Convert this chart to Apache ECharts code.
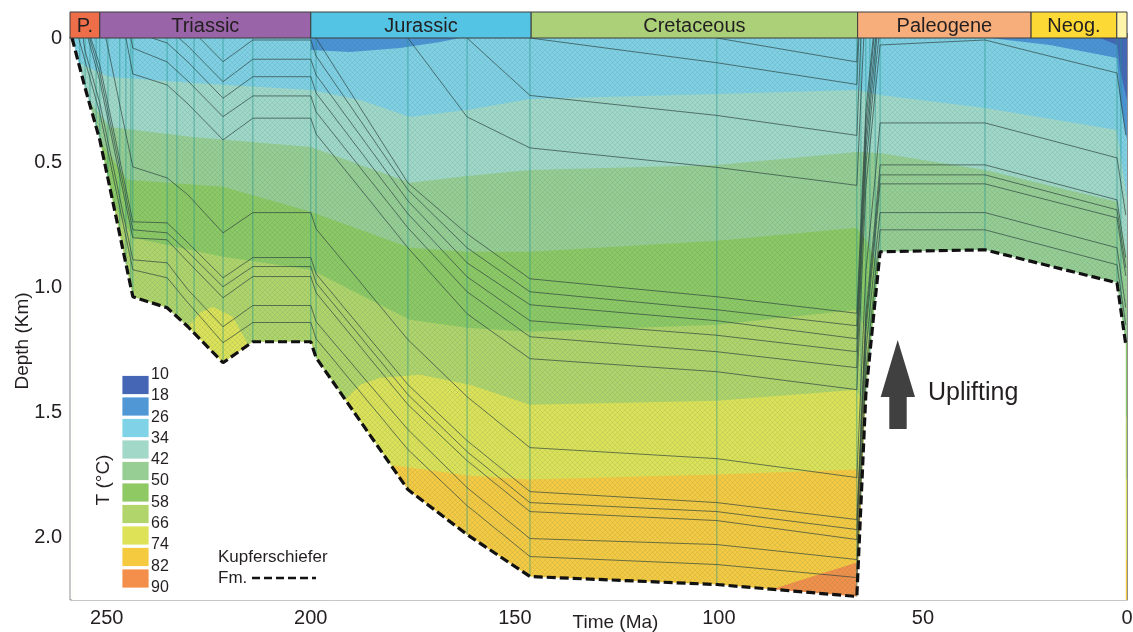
<!DOCTYPE html>
<html>
<head>
<meta charset="utf-8">
<script src="https://cdn.jsdelivr.net/npm/echarts@6/dist/echarts.min.js"></script>
<style>html,body{margin:0;padding:0;background:#fff}#c{width:1133px;height:632px}</style>
</head>
<body>
<div id="c"></div>
<script>
// ---------------- DATA (time in Ma, depth in km) ----------------
const periodNames  = ['P.', 'Triassic', 'Jurassic', 'Cretaceous', 'Paleogene', 'Neog.', ''];
const periodStart  = [259, 251.7, 200, 146, 66, 23.5, 2.5];
const periodEnd    = [251.7, 200, 146, 66, 23.5, 2.5, 0];
const periodColors = ['#EF6E4A', '#9964A8', '#53C4E3', '#ABD078', '#F8AE7B', '#FCD934', '#FEF4AA'];

const xTickValues = [250, 200, 150, 100, 50, 0];
const yTickValues = [0, 0.5, 1.0, 1.5, 2.0];

const tempLabels = [10, 18, 26, 34, 42, 50, 58, 66, 74, 82, 90];
const tempColors = ['#4566B4', '#4F97D5', '#80D2E6', '#A2D8C8', '#97CE94', '#8FC964', '#B1D46B', '#DDE257', '#F6CA3F', '#F38F4A'];

// Kupferschiefer Fm. (base of the section)
const kupferschieferBase = [[258.5,0],[255.3,0.2],[251.7,0.408],[243.6,1.036],[235.2,1.08],[230.1,1.156],[221.5,1.3],[214.2,1.216],[200,1.216],[198.7,1.28],[176.2,1.808],[161.7,1.988],[146.3,2.156],[100.5,2.188],[66.2,2.236],[64.0,1.428],[61.7,1.048],[60.5,0.856],[34.8,0.848],[2.45,0.98],[0.3,1.228]];

// time steps of the model (thin vertical lines)
const stepTimes = [256.6,255.3,254.1,252.6,251.7,249.7,246.8,245.3,244.1,243.6,235.2,232.8,228.6,221.5,214.2,200,198.7,176.2,161.7,146.3,100.5,66.2,65.2,64.0,63.0,61.7,60.5,34.8,2.45,1.5];

// isotherms (upper limit of each temperature band)
const surface = [[258.5,0],[0,0]];
const iso34 = [[258.5,0.088],[249.2,0.156],[228.9,0.18],[200,0.208],[187.9,0.248],[175.7,0.316],[161.7,0.288],[146.3,0.244],[100.5,0.224],[66.2,0.208],[60.5,0.228],[34.8,0.28],[2.45,0.368],[0,0.648]];
const iso42 = [[258.5,0.168],[249.2,0.356],[228.9,0.396],[200,0.436],[175.7,0.58],[161.7,0.552],[146.3,0.528],[100.5,0.508],[66.2,0.456],[60.5,0.46],[34.8,0.528],[2.45,0.656],[0,0.888]];
const iso50 = [[258.5,0.248],[245.0,0.568],[221.5,0.596],[200,0.696],[175.7,0.84],[161.7,0.856],[146.3,0.856],[100.5,0.812],[66.2,0.76],[64.0,0.808],[60.5,0.928],[34.8,0.948],[2.45,1.048],[0,1.228]];
const iso58 = [[258.5,0.368],[243.6,0.8],[221.5,0.876],[200,0.928],[175.7,1.128],[161.7,1.16],[146.3,1.176],[100.5,1.148],[66.2,1.088],[64.0,1.168],[60.5,1.288],[34.8,1.288],[2.45,1.368],[0,1.528]];
const iso66 = [[258.5,1.048],[243.6,1.168],[232.0,1.228],[229.6,1.148],[227.2,1.1],[224.0,1.076],[219.1,1.116],[215.6,1.22],[213.7,1.348],[200,1.368],[197.7,1.408],[191.6,1.448],[187.9,1.388],[183.0,1.36],[173.2,1.348],[161.0,1.388],[146.3,1.468],[100.5,1.452],[66.2,1.408],[63.0,1.528],[60.5,1.648],[34.8,1.648],[0,1.768]];
const iso74 = [[258.5,1.448],[200,1.648],[185.5,1.748],[179.4,1.712],[175.7,1.72],[161.7,1.752],[146.3,1.768],[100.5,1.748],[66.2,1.728],[63.0,1.848],[60.5,1.928],[0,2.088]];
const iso82 = [[258.5,2.248],[100.5,2.268],[88.7,2.216],[66.2,2.1],[64.7,2.208],[60.5,2.408],[0,2.488]];
// cold near-surface bands (lower limit)
const iso26 = [[258.5,0],[200,0],[200,0.048],[190.4,0.056],[178.1,0.04],[168.3,0.016],[163.4,0],[33.6,0],[18.9,0.028],[2.45,0.08],[1.7,0.248],[0,0.408]];
const iso18 = [[258.5,0],[6.6,0],[2.45,0.028],[1.7,0.128],[0,0.248]];

// burial curves of the stratigraphic horizons
const hL12 = [[256.9,0],[255.3,0.092],[251.7,0.3],[243.6,0.928],[235.2,0.96],[230.1,1.06],[221.5,1.22],[214.2,1.139],[200,1.139],[198.7,1.204],[176.2,1.648],[161.7,1.872],[146.3,2.076],[100.5,2.108],[66.2,2.16],[64.0,1.34],[61.7,0.96],[60.5,0.768],[34.8,0.768],[2.45,0.908],[0.3,1.148]];
const hL11 = [[255.8,0],[255.3,0.052],[251.7,0.26],[243.6,0.888],[235.2,0.9],[230.1,1.008],[221.5,1.156],[214.2,1.071],[200,1.071],[198.7,1.136],[176.2,1.568],[161.7,1.8],[146.3,2.004],[100.5,2.028],[66.2,2.088],[64.0,1.256],[61.7,0.876],[60.5,0.699],[34.8,0.699],[2.45,0.84],[0.3,1.08]];
const hL10 = [[254.6,0],[251.7,0.172],[243.6,0.8],[235.2,0.808],[230.1,0.896],[221.5,1.04],[214.2,0.955],[200,0.955],[198.7,1.02],[176.2,1.468],[161.7,1.692],[146.3,1.896],[100.5,1.932],[66.2,2.008],[64.0,1.176],[61.7,0.796],[60.5,0.584],[34.8,0.584],[2.45,0.72],[0.3,0.952]];
const hL9 = [[254.2,0],[251.7,0.14],[243.6,0.768],[235.2,0.78],[230.1,0.856],[221.5,0.996],[214.2,0.915],[200,0.915],[198.7,0.98],[176.2,1.428],[161.7,1.656],[146.3,1.86],[100.5,1.896],[66.2,1.968],[64.0,1.14],[61.7,0.76],[60.5,0.548],[34.8,0.548],[2.45,0.688],[0.3,0.92]];
const hL8 = [[253.9,0],[251.7,0.108],[243.6,0.736],[235.2,0.74],[230.1,0.82],[221.5,0.96],[214.2,0.879],[200,0.879],[198.7,0.944],[176.2,1.388],[161.7,1.612],[146.3,1.816],[100.5,1.86],[66.2,1.928],[64.0,1.104],[61.7,0.724],[60.5,0.508],[34.8,0.508],[2.45,0.648],[0.3,0.88]];
const hL7 = [[250.2,0],[246.8,0.268],[243.6,0.516],[235.2,0.56],[230.1,0.628],[221.5,0.78],[214.2,0.699],[200,0.699],[198.7,0.764],[176.2,1.208],[161.7,1.436],[146.3,1.64],[100.5,1.684],[66.2,1.76],[64.0,0.936],[61.7,0.556],[60.5,0.34],[34.8,0.34],[2.45,0.48],[0.3,0.708]];
const hL6 = [[245.3,0],[243.6,0.144],[235.2,0.188],[230.1,0.264],[221.5,0.408],[214.2,0.321],[200,0.321],[198.7,0.384],[176.2,0.84],[161.7,1.104],[146.3,1.284],[100.5,1.336],[66.2,1.408],[64.0,0.6],[61.7,0.22],[60.5,0.028],[34.8,0.008],[2.45,0.14],[0.3,0.388]];
const hL5 = [[244.1,0],[243.6,0.04],[235.2,0.096],[230.1,0.172],[221.5,0.315],[214.2,0.232],[200,0.232],[198.7,0.296],[176.2,0.76],[161.7,1.016],[146.3,1.196],[100.5,1.256],[66.2,1.32],[64.0,0.512],[61.7,0.132],[60.8,0]];
const hL4 = [[238.9,0],[235.2,0.02],[230.1,0.096],[221.5,0.241],[214.2,0.155],[200,0.155],[198.7,0.22],[176.2,0.704],[161.7,0.956],[146.3,1.132],[100.5,1.19],[66.2,1.256],[64.0,0.448],[61.7,0.068],[61.3,0]];
const hL3 = [[232.3,0],[230.1,0.032],[221.5,0.175],[214.2,0.085],[200,0.085],[198.7,0.148],[176.2,0.652],[161.7,0.9],[146.3,1.068],[100.5,1.132],[66.2,1.204],[64.0,0.396],[61.7,0.016],[61.5,0]];
const hL2 = [[227.2,0],[221.5,0.095],[214.2,0.008],[200,0.008],[198.7,0.072],[176.2,0.608],[161.7,0.84],[146.3,1.016],[100.5,1.088],[66.2,1.152],[64.0,0.344],[62.0,0]];
const hL1 = [[198.7,0],[176.2,0.58],[161.7,0.784],[146.3,0.964],[100.5,1.036],[66.2,1.102],[64.0,0.294],[62.2,0]];
const hJa = [[176.2,0],[161.7,0.316],[146.3,0.44],[100.5,0.518],[66.2,0.59],[64.5,0]];
const hJb = [[161.7,0],[146.3,0.23],[100.5,0.31],[66.2,0.39],[65.2,0]];
const hKa = [[146.3,0],[100.5,0.099],[66.2,0.186],[65.7,0]];
const hKb = [[100.5,0],[66.2,0.096],[65.9,0]];
const horizons = [hL12, hL11, hL10, hL9, hL8, hL7, hL6, hL5, hL4, hL3, hL2, hL1, hJa, hJb, hKa, hKb];

// ---------------- CHART ----------------
const FONT = '"Liberation Sans", Arial, Helvetica, sans-serif';
const TXT = '#231f20';
const chart = echarts.init(document.getElementById('c'), null, {renderer: 'canvas'});

function baseAt(t) {
  const b = kupferschieferBase;
  for (let i = 0; i < b.length - 1; i++) {
    const a = b[i], c = b[i + 1];
    if (t <= a[0] && t >= c[0]) {
      const f = (a[0] - t) / (a[0] - c[0] || 1);
      return a[1] + f * (c[1] - a[1]);
    }
  }
  return b[b.length - 1][1];
}

// fine hatch texture of the lithologies
const pc = document.createElement('canvas');
pc.width = 5; pc.height = 5;
const g = pc.getContext('2d');
g.strokeStyle = 'rgba(25,105,115,0.16)';
g.lineWidth = 0.7;
g.beginPath(); g.moveTo(0, 5); g.lineTo(5, 0); g.moveTo(0, 0); g.lineTo(5, 5); g.stroke();

const bandLines = [surface, iso34, iso42, iso50, iso58, iso66, iso74, iso82];
const bandColors = ['#80CFE2', '#A1D7C7', '#97CD93', '#8DC864', '#B0D36A', '#DDE157', '#F5C941', '#F2904A'];

const series = [];
let z = 1;
bandLines.forEach((d, i) => {
  series.push({type: 'line', data: d, xAxisIndex: 0, yAxisIndex: 0, symbol: 'none', silent: true, z: z++,
    lineStyle: {width: 0, opacity: 0}, areaStyle: {origin: 'end', color: bandColors[i], opacity: 1}});
});
[[iso26, '#4C93D4'], [iso18, '#4568B6']].forEach(([d, c]) => {
  series.push({type: 'line', data: d, symbol: 'none', silent: true, z: z++,
    lineStyle: {width: 0, opacity: 0}, areaStyle: {origin: 'start', color: c, opacity: 1}});
});
// outside the basin (below the Kupferschiefer) is blank
series.push({type: 'line', data: kupferschieferBase, symbol: 'none', silent: true, z: z++,
  lineStyle: {width: 0, opacity: 0}, areaStyle: {origin: 'end', color: '#ffffff', opacity: 1}});
// texture inside the basin
series.push({type: 'line', data: kupferschieferBase, symbol: 'none', silent: true, z: z++,
  lineStyle: {width: 0, opacity: 0}, areaStyle: {origin: 'start', color: {image: pc, repeat: 'repeat'}, opacity: 1}});
// time-step lines
series.push({type: 'custom', silent: true, z: z++, clip: true,
  data: stepTimes.map(t => [t, 0]), encode: {x: 0, y: 1},
  renderItem: (params, api) => {
    const t = api.value(0);
    const p1 = api.coord([t, 0]), p2 = api.coord([t, baseAt(t)]);
    return {type: 'line', shape: {x1: p1[0], y1: p1[1], x2: p2[0], y2: p2[1]},
      style: {stroke: 'rgba(35,150,140,0.75)', lineWidth: 0.8}};
  }});
// horizons
horizons.forEach(d => {
  series.push({type: 'line', data: d, symbol: 'none', silent: true, z: z,
    lineStyle: {color: 'rgba(45,65,62,0.85)', width: 0.8}});
});
z++;
// Kupferschiefer dashed
series.push({type: 'line', data: kupferschieferBase, symbol: 'none', silent: true, z: z++,
  lineStyle: {color: '#111', width: 3.2, type: [9, 4]}});
// geological time scale
series.push({type: 'custom', xAxisIndex: 1, yAxisIndex: 1, silent: true, z: 30,
  data: periodNames.map((n, i) => [periodStart[i], periodEnd[i], i]), encode: {x: [0, 1]},
  renderItem: (params, api) => {
    const i = api.value(2);
    const a = api.coord([api.value(0), 1]), b = api.coord([api.value(1), 0]);
    return {type: 'group', children: [
      {type: 'rect', shape: {x: a[0], y: a[1], width: b[0] - a[0], height: b[1] - a[1]},
        style: {fill: periodColors[i], stroke: '#3c3c3c', lineWidth: 1}},
      {type: 'text', style: {text: periodNames[i], x: (a[0] + b[0]) / 2, y: (a[1] + b[1]) / 2 + 1,
        align: 'center', verticalAlign: 'middle', font: '20px ' + FONT, fill: TXT}}
    ]};
  }});

// legend graphics
const graphics = [];
const GZ = 100;
tempColors.forEach((c, i) => {
  graphics.push({type: 'rect', z: GZ, shape: {x: 122, y: 375.5 + i * 21.5, width: 27, height: 19},
    style: {fill: c, stroke: '#ffffff', lineWidth: 0.8}});
});
tempLabels.forEach((v, i) => {
  graphics.push({type: 'text', z: GZ, x: 151, y: 374.5 + i * 21.3,
    style: {text: String(v), font: '16px ' + FONT, fill: TXT, align: 'left', verticalAlign: 'middle',
      textAlign: 'left', textVerticalAlign: 'middle'}});
});
graphics.push({type: 'text', z: GZ, x: 104, y: 480, rotation: Math.PI / 2,
  style: {text: 'T (°C)', font: '19px ' + FONT, fill: TXT, align: 'center', verticalAlign: 'middle',
    textAlign: 'center', textVerticalAlign: 'middle'}});
graphics.push({type: 'text', z: GZ, x: 218, y: 557,
  style: {text: 'Kupferschiefer', font: '17px ' + FONT, fill: TXT, align: 'left', verticalAlign: 'middle',
    textAlign: 'left', textVerticalAlign: 'middle'}});
graphics.push({type: 'text', z: GZ, x: 218, y: 578,
  style: {text: 'Fm.', font: '17px ' + FONT, fill: TXT, align: 'left', verticalAlign: 'middle',
    textAlign: 'left', textVerticalAlign: 'middle'}});
graphics.push({type: 'line', z: GZ, shape: {x1: 252, y1: 578, x2: 316, y2: 578},
  style: {stroke: '#111', lineWidth: 2.6, lineDash: [8, 4]}});
graphics.push({type: 'polygon', z: GZ, shape: {points: [[897.7, 340], [915, 397], [906.7, 397], [906.7, 429], [889.3, 429], [889.3, 397], [880.7, 397]]},
  style: {fill: '#404040'}});
graphics.push({type: 'text', z: GZ, x: 928, y: 393,
  style: {text: 'Uplifting', font: '25px ' + FONT, fill: TXT, align: 'left', verticalAlign: 'middle',
    textAlign: 'left', textVerticalAlign: 'middle'}});

const option = {
  animation: false,
  textStyle: {fontFamily: FONT},
  grid: [
    {left: 70, right: 6, top: 38, bottom: 32, containLabel: false, outerBoundsMode: 'none',
      show: true, borderColor: '#8f8f8f', borderWidth: 1, backgroundColor: 'transparent'},
    {left: 70, right: 6, top: 12, height: 26, containLabel: false, outerBoundsMode: 'none', show: false}
  ],
  xAxis: [
    {type: 'value', gridIndex: 0, min: 0, max: 259, inverse: true,
      name: 'Time (Ma)', nameLocation: 'middle', nameGap: 13, nameMoveOverlap: false,
      nameTextStyle: {fontSize: 19, color: TXT, padding: [0, 0, 0, 34]},
      axisLine: {show: true, lineStyle: {color: '#8f8f8f', width: 2}},
      axisTick: {show: true, inside: true, length: 5, customValues: xTickValues, lineStyle: {color: '#8f8f8f'}},
      axisLabel: {customValues: xTickValues, fontSize: 20, color: TXT, margin: 8, formatter: v => String(v)},
      splitLine: {show: false}},
    {type: 'value', gridIndex: 1, min: 0, max: 259, inverse: true, show: false}
  ],
  yAxis: [
    {type: 'value', gridIndex: 0, min: 0, max: 2.25, inverse: true,
      name: 'Depth (Km)', nameLocation: 'middle', nameGap: 38, nameRotate: 90, nameMoveOverlap: false,
      nameTextStyle: {fontSize: 19, color: TXT, padding: [0, 44, 0, 0]},
      axisLine: {show: true, lineStyle: {color: '#8f8f8f', width: 1}},
      axisTick: {show: true, inside: false, length: 5, customValues: yTickValues, lineStyle: {color: '#8f8f8f'}},
      axisLabel: {customValues: yTickValues, fontSize: 20, color: TXT, margin: 8,
        formatter: v => (v === 0 ? '0' : v.toFixed(1))},
      splitLine: {show: false}},
    {type: 'value', gridIndex: 1, min: 0, max: 1, show: false}
  ],
  series: series,
  graphic: graphics
};
chart.setOption(option);
</script>
</body>
</html>
